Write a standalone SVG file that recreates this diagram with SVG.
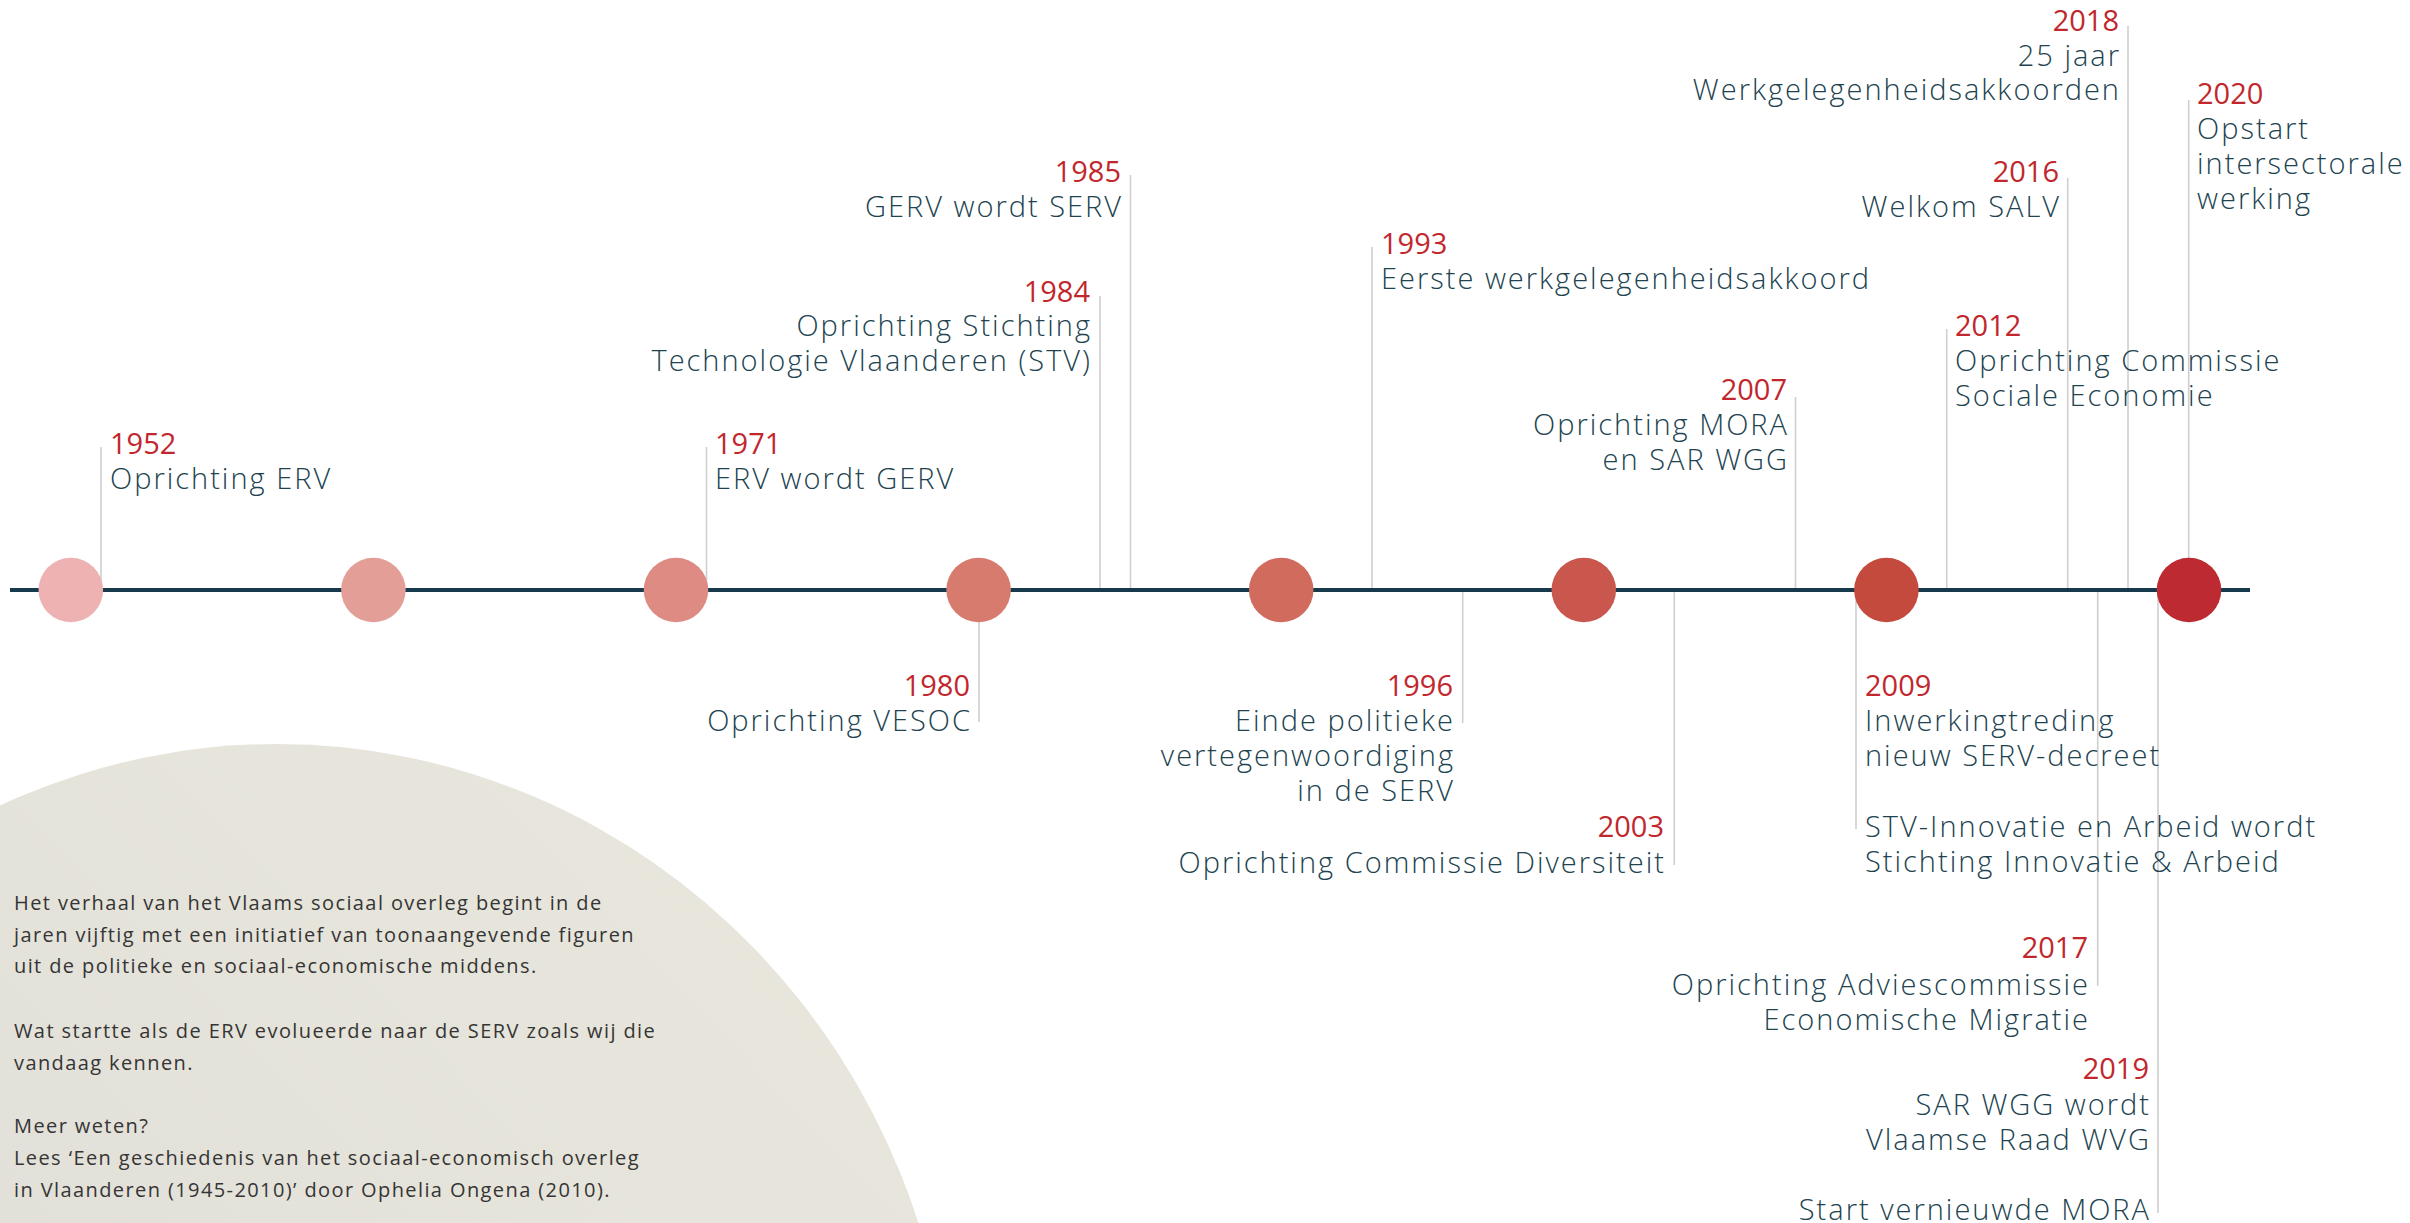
<svg xmlns="http://www.w3.org/2000/svg" width="2410" height="1223" viewBox="0 0 2410 1223">
<defs>
<linearGradient id="blobGrad" x1="0" y1="1" x2="1" y2="0">
<stop offset="0" stop-color="#DBDAD5"/>
<stop offset="1" stop-color="#EAE8DD"/>
</linearGradient>
<style>
.yr{font-family:"Open Sans","Noto Sans",sans-serif;font-size:29px;font-weight:500;fill:#C1272D}
.ds{font-family:"Open Sans","Noto Sans",sans-serif;font-size:29px;font-weight:300;fill:#21434F;letter-spacing:2px}
.end{text-anchor:end}
.con{stroke:#CFCFCF;stroke-width:1.6;fill:none}
.intro{font-family:"Open Sans","Noto Sans",sans-serif;font-size:20px;font-weight:400;fill:#353535;letter-spacing:1.4px}
</style>
</defs>
<rect width="2410" height="1223" fill="#FFFFFF"/>
<ellipse id="background-blob" cx="277" cy="1444" rx="676" ry="700" fill="url(#blobGrad)"/>
<g id="intro-text" class="intro">
<text x="14" y="910">Het verhaal van het Vlaams sociaal overleg begint in de</text>
<text x="14" y="942">jaren vijftig met een initiatief van toonaangevende figuren</text>
<text x="14" y="973">uit de politieke en sociaal-economische middens.</text>
<text x="14" y="1038">Wat startte als de ERV evolueerde naar de SERV zoals wij die</text>
<text x="14" y="1070">vandaag kennen.</text>
<text x="14" y="1133">Meer weten?</text>
<text x="14" y="1165">Lees ‘Een geschiedenis van het sociaal-economisch overleg</text>
<text x="14" y="1197">in Vlaanderen (1945-2010)’ door Ophelia Ongena (2010).</text>
</g>
<g id="connectors" class="con">
<line x1="101" y1="447" x2="101" y2="590"/>
<line x1="706.5" y1="447" x2="706.5" y2="590"/>
<line x1="1100" y1="296" x2="1100" y2="590"/>
<line x1="1130.5" y1="175" x2="1130.5" y2="590"/>
<line x1="1372" y1="247" x2="1372" y2="590"/>
<line x1="1795.5" y1="397" x2="1795.5" y2="590"/>
<line x1="1946.7" y1="329" x2="1946.7" y2="590"/>
<line x1="2067.7" y1="178" x2="2067.7" y2="590"/>
<line x1="2128" y1="26" x2="2128" y2="590"/>
<line x1="2188.7" y1="100" x2="2188.7" y2="590"/>
<line x1="979" y1="590" x2="979" y2="722"/>
<line x1="1462.7" y1="590" x2="1462.7" y2="723"/>
<line x1="1674.3" y1="590" x2="1674.3" y2="865"/>
<line x1="1856" y1="590" x2="1856" y2="829"/>
<line x1="2097.7" y1="590" x2="2097.7" y2="986"/>
<line x1="2158" y1="590" x2="2158" y2="1213"/>
</g>
<g id="timeline">
<line x1="10" y1="590" x2="2250" y2="590" stroke="#163A4B" stroke-width="4"/>
</g>
<g id="dot-1"><circle cx="70.8" cy="590" r="32.3" fill="#EDB2B1"/></g>
<g id="dot-2"><circle cx="373.4" cy="590" r="32.3" fill="#E39E97"/></g>
<g id="dot-3"><circle cx="676" cy="590" r="32.3" fill="#DE8B83"/></g>
<g id="dot-4"><circle cx="978.6" cy="590" r="32.3" fill="#D77B6E"/></g>
<g id="dot-5"><circle cx="1281.2" cy="590" r="32.3" fill="#D06B5D"/></g>
<g id="dot-6"><circle cx="1583.8" cy="590" r="32.3" fill="#C9574D"/></g>
<g id="dot-7"><circle cx="1886.4" cy="590" r="32.3" fill="#C44A3E"/></g>
<g id="dot-8"><circle cx="2189" cy="590" r="32.3" fill="#BE2A31"/></g>
<g id="e1952"><text class="yr" x="110" y="454">1952</text><text class="ds" x="110" y="489">Oprichting ERV</text></g>
<g id="e1971"><text class="yr" x="715" y="454">1971</text><text class="ds" x="715" y="489">ERV wordt GERV</text></g>
<g id="e1984"><text class="yr end" x="1090" y="302">1984</text><text class="ds end" x="1092" y="336">Oprichting Stichting</text><text class="ds end" x="1092" y="371">Technologie Vlaanderen (STV)</text></g>
<g id="e1985"><text class="yr end" x="1121" y="182">1985</text><text class="ds end" x="1123" y="217">GERV wordt SERV</text></g>
<g id="e1993"><text class="yr" x="1381" y="254">1993</text><text class="ds" x="1381" y="289">Eerste werkgelegenheidsakkoord</text></g>
<g id="e2007"><text class="yr end" x="1787" y="400">2007</text><text class="ds end" x="1789" y="435">Oprichting MORA</text><text class="ds end" x="1789" y="470">en SAR WGG</text></g>
<g id="e2012"><text class="yr" x="1955" y="336">2012</text><text class="ds" x="1955" y="371">Oprichting Commissie</text><text class="ds" x="1955" y="406">Sociale Economie</text></g>
<g id="e2016"><text class="yr end" x="2059" y="182">2016</text><text class="ds end" x="2061" y="217">Welkom SALV</text></g>
<g id="e2018"><text class="yr end" x="2119" y="31">2018</text><text class="ds end" x="2121" y="66">25 jaar</text><text class="ds end" x="2121" y="100">Werkgelegenheidsakkoorden</text></g>
<g id="e2020"><text class="yr" x="2197" y="104">2020</text><text class="ds" x="2197" y="139">Opstart</text><text class="ds" x="2197" y="174">intersectorale</text><text class="ds" x="2197" y="209">werking</text></g>
<g id="e1980"><text class="yr end" x="970" y="696">1980</text><text class="ds end" x="972" y="731">Oprichting VESOC</text></g>
<g id="e1996"><text class="yr end" x="1453" y="696">1996</text><text class="ds end" x="1455" y="731">Einde politieke</text><text class="ds end" x="1455" y="766">vertegenwoordiging</text><text class="ds end" x="1455" y="801">in de SERV</text></g>
<g id="e2003"><text class="yr end" x="1664" y="837">2003</text><text class="ds end" x="1666" y="873">Oprichting Commissie Diversiteit</text></g>
<g id="e2009"><text class="yr" x="1865" y="696">2009</text><text class="ds" x="1865" y="731">Inwerkingtreding</text><text class="ds" x="1865" y="766">nieuw SERV-decreet</text><text class="ds" x="1865" y="837">STV-Innovatie en Arbeid wordt</text><text class="ds" x="1865" y="872">Stichting Innovatie &amp; Arbeid</text></g>
<g id="e2017"><text class="yr end" x="2088" y="958">2017</text><text class="ds end" x="2090" y="995">Oprichting Adviescommissie</text><text class="ds end" x="2090" y="1030">Economische Migratie</text></g>
<g id="e2019"><text class="yr end" x="2149" y="1079">2019</text><text class="ds end" x="2151" y="1115">SAR WGG wordt</text><text class="ds end" x="2151" y="1150">Vlaamse Raad WVG</text><text class="ds end" x="2151" y="1220">Start vernieuwde MORA</text></g>
</svg>
